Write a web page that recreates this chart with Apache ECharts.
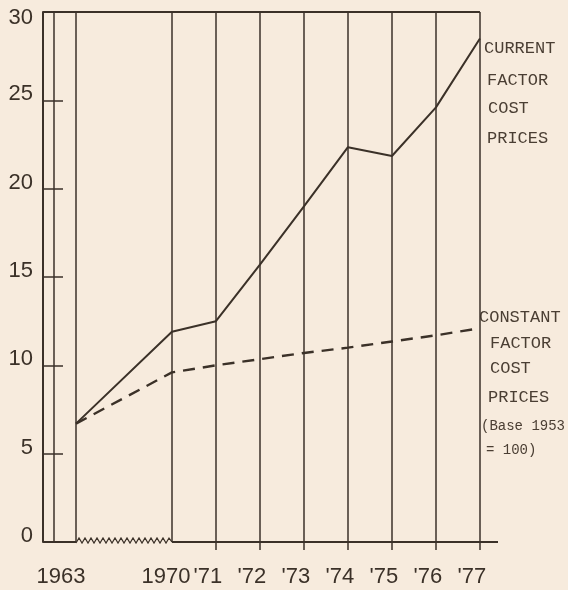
<!DOCTYPE html>
<html><head><meta charset="utf-8">
<script src="https://cdn.jsdelivr.net/npm/echarts@6/dist/echarts.min.js"></script>
<style>html,body{margin:0;padding:0;background:#f7ebdd}#c{width:568px;height:590px}</style>
</head><body><div id="c"></div>
<script>
// ---- data ----
const years = [1963, 1970, 1971, 1972, 1973, 1974, 1975, 1976, 1977];
const yearLabels = ['1963', '1970', "'71", "'72", "'73", "'74", "'75", "'76", "'77"];
const currentPrices = [6.7, 11.9, 12.5, 15.7, 19.0, 22.35, 21.85, 24.6, 28.5];
const constantPrices = [6.7, 9.6, 10.0, 10.35, 10.7, 11.0, 11.35, 11.7, 12.1];
const currentText = ['CURRENT', 'FACTOR', 'COST', 'PRICES'];
const constantText = ['CONSTANT', 'FACTOR', 'COST', 'PRICES', '(Base 1953', '= 100)'];

// ---- layout / scale ----
const INK = '#3b3128';
const BREAK_POS = -2.18;          // axis position of 1963 (broken axis)
const X_MIN = -2.93, X_MAX = 7.41;
function xOf(y) { return y < 1970 ? BREAK_POS : y - 1970; }
function labelOf(v) {
  for (let i = 0; i < years.length; i++) if (Math.abs(xOf(years[i]) - v) < 1e-6) return i;
  return -1;
}

const chart = echarts.init(document.getElementById('c'), null, {renderer: 'canvas'});
const option = {
  backgroundColor: '#f7ebdd',
  animation: false,
  grid: {left: 43, right: 70, top: 12, bottom: 48},
  xAxis: {
    type: 'value', min: X_MIN, max: X_MAX,
    axisLine: {show: false, onZero: false},
    splitLine: {show: false},
    axisTick: {
      show: true, length: 8, inside: false,
      customValues: years.filter(y => y > 1970).map(xOf),
      lineStyle: {color: INK, width: 1.5}
    },
    axisLabel: {
      customValues: years.map(xOf),
      margin: 24,
      formatter: v => {
        const i = labelOf(v);
        if (i < 0) return '';
        if (i === 0) return '{a|' + yearLabels[i] + '}';
        if (i === 1) return '{b|' + yearLabels[i] + '}';
        return '{c|' + yearLabels[i] + '}';
      },
      rich: {
        a: {fontFamily: 'Liberation Sans', fontSize: 22, color: INK, padding: [0, 30, 0, 0]},
        b: {fontFamily: 'Liberation Sans', fontSize: 22, color: INK, padding: [0, 12, 0, 0]},
        c: {fontFamily: 'Liberation Sans', fontSize: 22, color: INK, padding: [0, 16, 0, 0]}
      }
    }
  },
  yAxis: {
    type: 'value', min: 0, max: 30, interval: 5,
    axisLine: {show: true, onZero: false, lineStyle: {color: INK, width: 2}},
    splitLine: {show: false},
    axisTick: {show: true, inside: true, length: 20, lineStyle: {color: INK, width: 1.5}},
    axisLabel: {
      margin: 10,
      formatter: v => v === 30 ? '{t|' + v + '}' : '{n|' + v + '}',
      rich: {
        n: {fontFamily: 'Liberation Sans', fontSize: 22, color: INK, padding: [0, 0, 12, 0]},
        t: {fontFamily: 'Liberation Sans', fontSize: 22, color: INK, padding: [12, 0, 0, 0]}
      }
    }
  },
  series: [
    {
      name: 'Current factor cost prices', type: 'line',
      data: years.map((y, i) => [xOf(y), currentPrices[i]]),
      symbol: 'none',
      lineStyle: {color: INK, width: 2},
      markLine: {
        silent: true, symbol: 'none', label: {show: false},
        lineStyle: {color: INK, width: 1.5, type: 'solid'},
        data: years.map(y => ({xAxis: xOf(y)}))
      },
      z: 3
    },
    {
      name: 'Constant factor cost prices', type: 'line',
      data: years.map((y, i) => [xOf(y), constantPrices[i]]),
      symbol: 'none',
      lineStyle: {color: INK, width: 2.4, type: [12, 8]},
      z: 3
    }
  ]
};
chart.setOption(option);

// ---- decorations: top border, inner left rule, broken baseline ----
const p = (x, y) => chart.convertToPixel({gridIndex: 0}, [x, y]);
const pMin0 = p(X_MIN, 0), pMax0 = p(X_MAX, 0);
const p63 = p(xOf(1963), 0), p70 = p(xOf(1970), 0);
const pTopL = p(X_MIN, 30), pTop77 = p(xOf(1977), 30);
const y0 = pMin0[1];
const zig = [];
let k = 0;
for (let x = p63[0]; x <= p70[0]; x += 3, k++) zig.push([x, k % 2 ? y0 - 4 : y0 + 1]);
zig.push([p70[0], y0]);

const graphics = [
  {type: 'line', shape: {x1: pTopL[0], y1: pTopL[1], x2: pTop77[0], y2: pTop77[1]}, style: {stroke: INK, lineWidth: 2}},
  {type: 'line', shape: {x1: pTopL[0] + 11, y1: pTopL[1], x2: pTopL[0] + 11, y2: y0}, style: {stroke: INK, lineWidth: 1.5}},
  {type: 'line', shape: {x1: pMin0[0], y1: y0, x2: p63[0], y2: y0}, style: {stroke: INK, lineWidth: 2}},
  {type: 'line', shape: {x1: p70[0], y1: y0, x2: pMax0[0], y2: y0}, style: {stroke: INK, lineWidth: 2}},
  {type: 'polyline', shape: {points: zig}, style: {stroke: INK, lineWidth: 1.2, fill: null}}
];
const curPos = [[484, 48], [487, 80], [488, 108], [487, 138]];
currentText.forEach((t, i) => graphics.push({
  type: 'text', x: curPos[i][0], y: curPos[i][1],
  style: {text: t, fill: '#4a3e33', font: '17px "Liberation Mono"', verticalAlign: 'middle', align: 'left'}
}));
const conPos = [[479, 317], [490, 343], [490, 368], [488, 397], [481, 426], [486, 450]];
constantText.forEach((t, i) => graphics.push({
  type: 'text', x: conPos[i][0], y: conPos[i][1],
  style: {text: t, fill: '#4a3e33', font: (i >= 4 ? '14px' : '17px') + ' "Liberation Mono"', verticalAlign: 'middle', align: 'left'}
}));
chart.setOption({graphic: graphics});
</script>
</body></html>
